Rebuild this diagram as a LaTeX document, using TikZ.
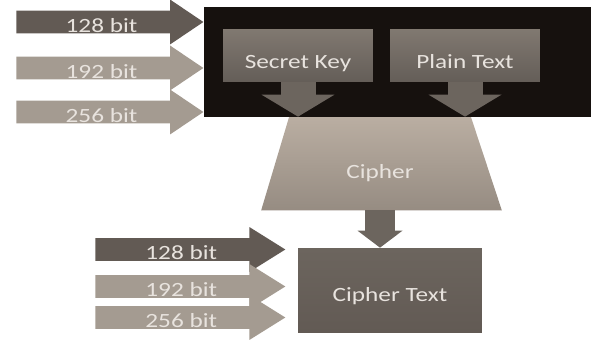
\documentclass[tikz,border=0pt]{standalone}
\usepackage{fontspec}
\setmainfont[FakeStretch=1.25]{Carlito}
\usetikzlibrary{arrows.meta,positioning,shapes.geometric,shapes.arrows,backgrounds}
\definecolor{frameblack}{RGB}{22,17,14}
\definecolor{keytop}{RGB}{128,120,112}
\definecolor{keybottom}{RGB}{100,94,88}
\definecolor{ciphertop}{RGB}{186,174,162}
\definecolor{cipherbottom}{RGB}{150,140,130}
\definecolor{bitdark}{RGB}{98,90,84}
\definecolor{bitlight}{RGB}{164,155,145}
\definecolor{flowgray}{RGB}{108,101,94}
\definecolor{labelwhite}{RGB}{232,227,222}
\tikzset{
  labelfont/.style={font=\fontsize{11.5}{13}\selectfont, text=labelwhite, text depth=0pt},
  frame/.style={rectangle, fill=frameblack, minimum width=7.74cm, minimum height=2.2cm, inner sep=0pt},
  block/.style={rectangle, top color=keytop, bottom color=keybottom, draw=none,
                minimum width=3cm, minimum height=1.04cm, inner sep=0pt, labelfont, text height=14pt},
  resultblock/.style={block, top color=flowgray, bottom color=bitdark,
                minimum width=3.68cm, minimum height=1.7cm, text height=12.6pt},
  cipherbox/.style={rectangle, minimum width=3.62cm, minimum height=1.86cm, inner sep=0pt,
                labelfont, text height=17pt},
  bitarrow/.style={single arrow, single arrow head extend=0.22cm, single arrow tip angle=68,
                minimum width=0.9cm, minimum height=3.74cm, inner sep=0.5pt, labelfont, text height=11.4pt},
  downarrow/.style={-{Triangle[width=1.46cm, length=0.44cm, line width=0pt]},
                line width=0.7cm, flowgray},
}
\begin{document}
\begin{tikzpicture}[x=0.02cm, y=-0.02cm]
\useasboundingbox (0,0) rectangle (591,340);
% encryption unit
\node[frame, anchor=north west] (frame) at (204,7) {};
\node[block] (key) at (298,56) {Secret Key};
\node[block] (plain) at (465,56) {Plain Text};
\node[cipherbox] (cipher) at (380,163.5) {Cipher};
\begin{scope}[on background layer]
  \shade[top color=ciphertop, bottom color=cipherbottom]
    (cipher.north west) -- (cipher.north east) -- ([xshift=0.62cm]cipher.south east)
    -- ([xshift=-0.56cm]cipher.south west) -- cycle;
\end{scope}
\node[resultblock] (ctext) at (390,290.5) {Cipher Text};
% flow
\draw[downarrow] (key.south) -- (key.south |- cipher.north);
\draw[downarrow] (plain.south) -- (plain.south |- cipher.north);
\draw[downarrow, line width=0.6cm, -{Triangle[width=0.9cm, length=0.34cm, line width=0pt]}]
  (cipher.south) -- (cipher.south |- ctext.north);
% key lengths
\foreach \n/\y/\c in {128/22/bitdark, 192/68/bitlight, 256/112/bitlight}
  \node[bitarrow, fill=\c, anchor=tip] (in\n) at (frame.west |- 0,\y) {\n\ bit};
\foreach \n/\y/\c in {128/249.5/bitdark, 192/286.5/bitlight, 256/317.5/bitlight}
  \node[bitarrow, fill=\c, minimum height=3.8cm, single arrow tip angle=64, anchor=tip] (out\n) at (286,\y) {\n\ bit};
\end{tikzpicture}
\end{document}
